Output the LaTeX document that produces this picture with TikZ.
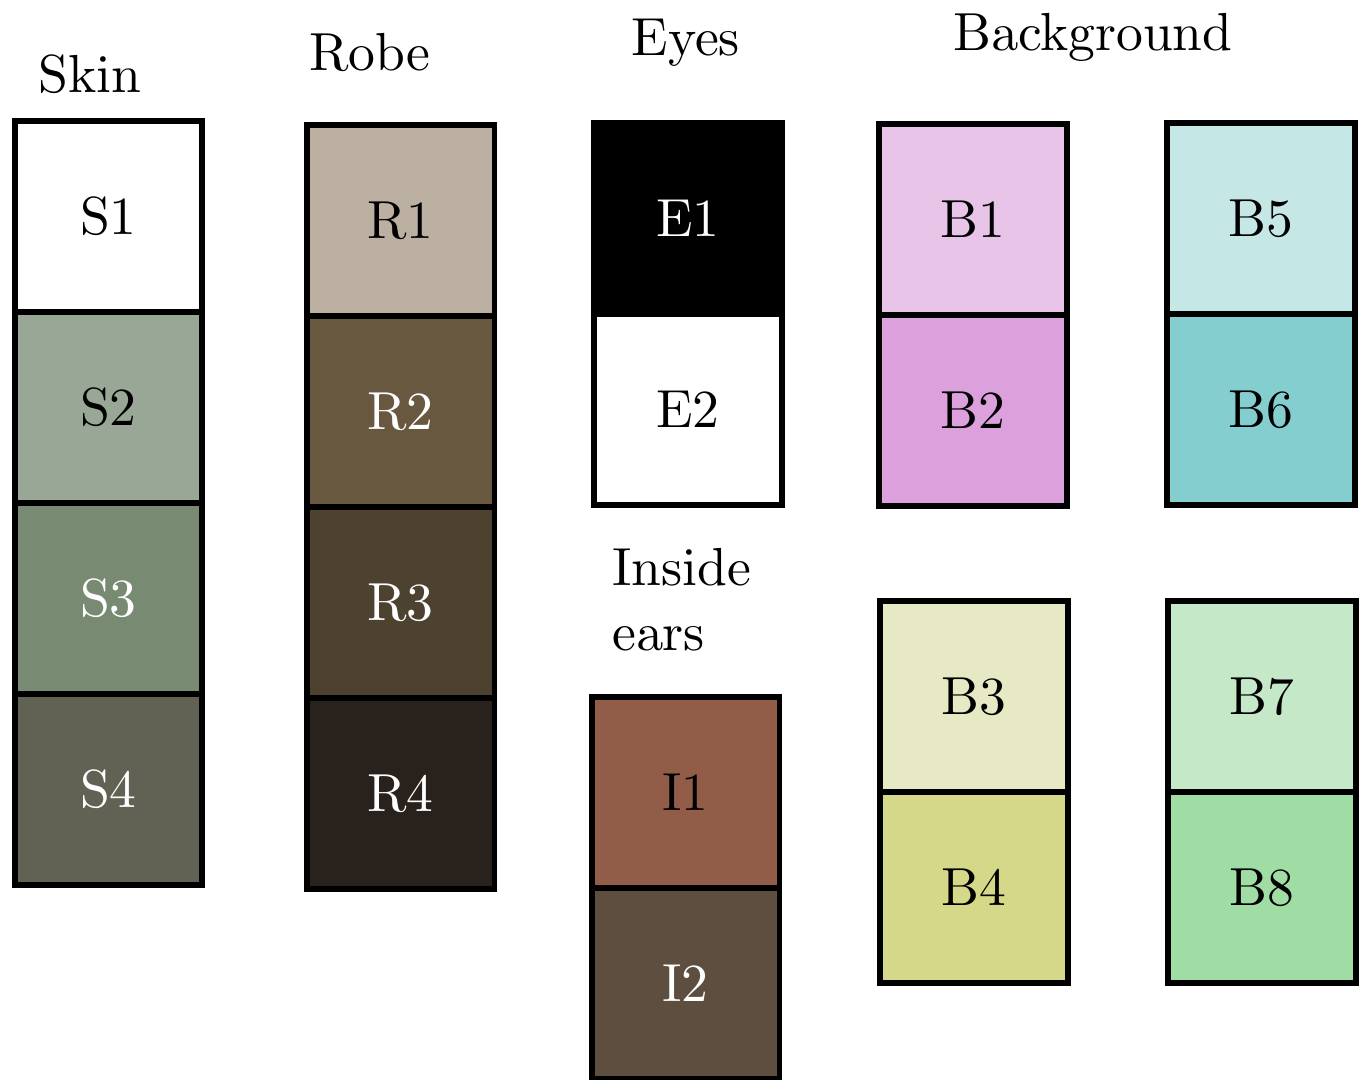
\documentclass[tikz,border=0pt]{standalone}
\usetikzlibrary{positioning}
\font\tilefont=cmr10 at 30.5pt
\definecolor{skinone}{RGB}{255,255,255}
\definecolor{skintwo}{RGB}{152,167,150}
\definecolor{skinthree}{RGB}{120,138,114}
\definecolor{skinfour}{RGB}{97,98,83}
\definecolor{robeone}{RGB}{187,176,162}
\definecolor{robetwo}{RGB}{104,88,63}
\definecolor{robethree}{RGB}{77,66,48}
\definecolor{robefour}{RGB}{41,33,28}
\definecolor{earone}{RGB}{145,92,72}
\definecolor{eartwo}{RGB}{94,78,64}
\definecolor{bgone}{RGB}{232,197,232}
\definecolor{bgtwo}{RGB}{220,161,220}
\definecolor{bgthree}{RGB}{230,233,196}
\definecolor{bgfour}{RGB}{212,216,136}
\definecolor{bgfive}{RGB}{197,232,230}
\definecolor{bgsix}{RGB}{132,206,208}
\definecolor{bgseven}{RGB}{196,232,200}
\definecolor{bgeight}{RGB}{159,221,164}
\tikzstyle{every node}=[inner sep=0pt]
\tikzstyle{tile}=[draw=black, line width=3.4pt, minimum width=3.76cm, minimum height=3.82cm, font=\tilefont]
\tikzstyle{dark}=[text=white]
\tikzstyle{heading}=[font=\tilefont, anchor=base]

\begin{document}
\begin{tikzpicture}[x=0.02cm, y=-0.02cm, node distance=-3.4pt]
    \useasboundingbox (0,0) rectangle (1372,1079);
    % headings
    \node [heading] (skin) at (90,92) {Skin};
    \node [heading] (robe) at (370,70) {Robe};
    \node [heading] (eyes) at (686,55) {Eyes};
    \node [heading] (background) at (1093,50) {Background};
    \node [heading, anchor=base west, align=left, font={\tilefont\setlength{\baselineskip}{37pt}}] (ears) at (612,650) {Inside\\ears};
    % skin
    \node [tile, fill=skinone] (s1) at (108.5,216.5) {S1};
    \node [tile, fill=skintwo, below=of s1] (s2) {S2};
    \node [tile, fill=skinthree, dark, below=of s2] (s3) {S3};
    \node [tile, fill=skinfour, dark, below=of s3] (s4) {S4};
    % robe
    \node [tile, fill=robeone] (r1) at (400.5,220.5) {R1};
    \node [tile, fill=robetwo, dark, below=of r1] (r2) {R2};
    \node [tile, fill=robethree, dark, below=of r2] (r3) {R3};
    \node [tile, fill=robefour, dark, below=of r3] (r4) {R4};
    % eyes
    \node [tile, fill=black, dark] (e1) at (688,218.5) {E1};
    \node [tile, fill=white, below=of e1] (e2) {E2};
    % inside ears
    \node [tile, fill=earone] (i1) at (685.5,792.5) {I1};
    \node [tile, fill=eartwo, dark, below=of i1] (i2) {I2};
    % background
    \node [tile, fill=bgone] (b1) at (973,219.5) {B1};
    \node [tile, fill=bgtwo, below=of b1] (b2) {B2};
    \node [tile, fill=bgthree] (b3) at (974,696.5) {B3};
    \node [tile, fill=bgfour, below=of b3] (b4) {B4};
    \node [tile, fill=bgfive] (b5) at (1261,218.5) {B5};
    \node [tile, fill=bgsix, below=of b5] (b6) {B6};
    \node [tile, fill=bgseven] (b7) at (1262,696.5) {B7};
    \node [tile, fill=bgeight, below=of b7] (b8) {B8};
\end{tikzpicture}
\end{document}
